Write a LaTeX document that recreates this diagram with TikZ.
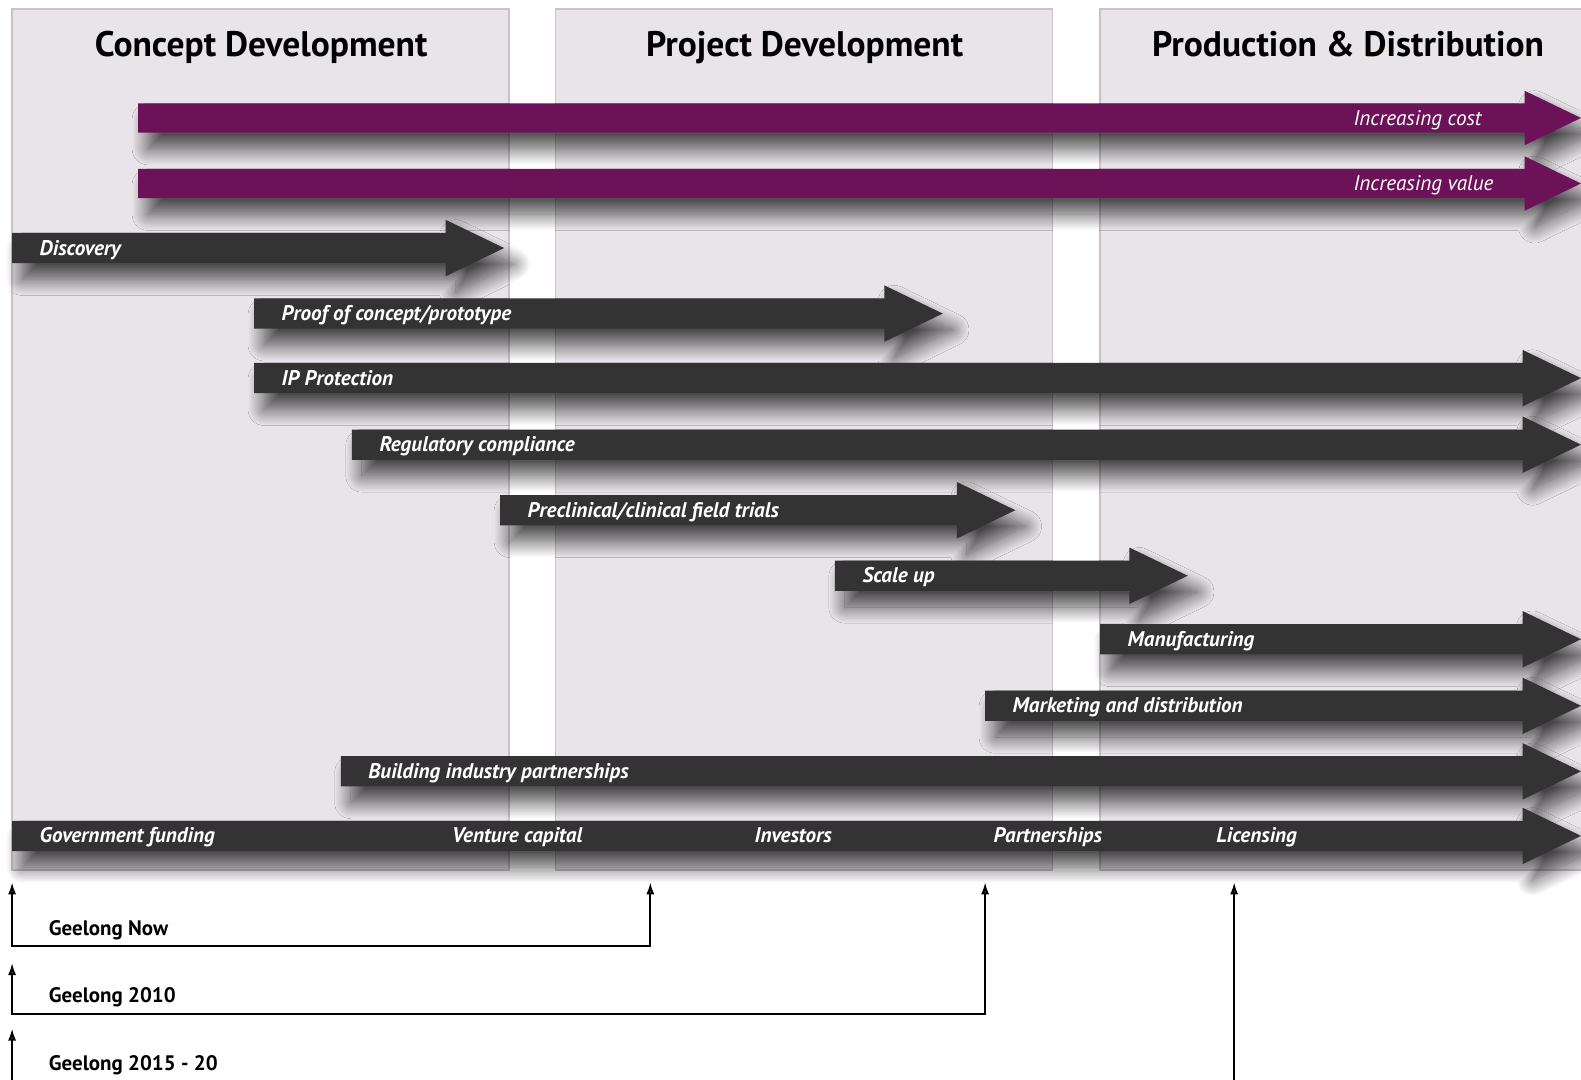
\documentclass[tikz,border=0pt]{standalone}
\usepackage{fontspec}
\setmainfont{PT Sans}
\usetikzlibrary{arrows.meta, shadows.blur}

\definecolor{panelfill}{HTML}{E9E4E9}
\definecolor{panelline}{HTML}{CDBFCD}
\definecolor{costpurple}{HTML}{6B1259}
\definecolor{stagegray}{HTML}{333333}

\begin{document}
\begin{tikzpicture}[
  x=0.5pt, y=-0.5pt,
  panel/.style={fill=panelfill, draw=panelline, line width=0.8pt},
  title/.style={anchor=base, font=\fontsize{17.6}{19}\selectfont\bfseries},
  bar/.style={blur shadow={shadow xshift=5pt, shadow yshift=-8pt,
      shadow blur radius=8pt, shadow blur steps=20, shadow opacity=70}},
  barlabel/.style={text=white, inner sep=0pt, anchor=base west,
      font=\fontsize{10.5}{12}\selectfont\bfseries\itshape},
  trendlabel/.style={text=white, inner sep=0pt, anchor=base west,
      font=\fontsize{10.5}{12}\selectfont\itshape},
  stage/.style={font=\fontsize{10.4}{12}\selectfont\bfseries, inner sep=0pt, anchor=base west},
  bracket/.style={line width=1pt, {Latex[length=6pt,width=4pt]}-{Latex[length=6pt,width=4pt]}},
  tick/.style={line width=1pt, -{Latex[length=6pt,width=4pt]}}
]
\useasboundingbox (0,0) rectangle (1568,1071);

% the three phases
\draw[panel] (12,9) rectangle (505,863);
\draw[panel] (551,9) rectangle (1044,863);
\draw[panel] (1091,9) rectangle (1600,863);
\node[title] (concept) at (259,56) {Concept Development};
\node[title] (project) at (798,56) {Project Development};
\node[title] (production) at (1337,56) {Production \& Distribution};

% cost and value
\foreach \y/\nm/\txt in {117/cost/{Increasing cost}, 182/value/{Increasing value}} {
  \path[bar, fill=costpurple] (137,\y-14.5) -- (1512,\y-14.5) -- (1512,\y-27)
    -- (1568,\y) -- (1512,\y+27) -- (1512,\y+14.5) -- (137,\y+14.5) -- cycle;
  \node[trendlabel] (\nm) at (1342,\y+7) {\txt};
}

% activities
\foreach \y/\xa/\xb/\nm/\txt in {
    246/12/500/disc/Discovery,
    311/252/935/proof/{Proof of concept/prototype},
    375/252/1568/ip/{IP Protection},
    441/349/1568/reg/{Regulatory compliance},
    506/496/1007/trials/{Preclinical/clinical field trials},
    571/828/1178/scale/{Scale up},
    634/1091/1568/manuf/Manufacturing,
    700/977/1568/market/{Marketing and distribution},
    765/338/1568/partner/{Building industry partnerships},
    829/12/1568/fund/{Government funding}} {
  \path[bar, fill=stagegray] (\xa,\y-15) -- (\xb-58,\y-15) -- (\xb-58,\y-28)
    -- (\xb,\y) -- (\xb-58,\y+28) -- (\xb-58,\y+15) -- (\xa,\y+15) -- cycle;
  \node[barlabel] (\nm) at (\xa+27,\y+7) {\txt};
}
\node[barlabel] (venture) at (448,836) {Venture capital};
\node[barlabel] (investors) at (748,836) {Investors};
\node[barlabel] (partnerships) at (985,836) {Partnerships};
\node[barlabel] (licensing) at (1206,836) {Licensing};

% timeline
\coordinate (nowA) at (12,875);
\coordinate (nowB) at (645,875);
\coordinate (nowBase) at (0,938);
\coordinate (tenA) at (12,955);
\coordinate (tenB) at (977,875);
\coordinate (tenBase) at (0,1006);
\coordinate (laterA) at (12,1020);
\coordinate (laterB) at (1224,875);
\coordinate (laterBase) at (0,1090);
\draw[bracket] (nowA) |- (nowBase -| nowB) -- (nowB);
\draw[bracket] (tenA) |- (tenBase -| tenB) -- (tenB);
\draw[tick] (laterBase -| laterA) -- (laterA);
\draw[tick] (laterBase -| laterB) -- (laterB);
\node[stage] (now) at (48,928) {Geelong Now};
\node[stage] (ten) at (48,994) {Geelong 2010};
\node[stage] (later) at (48,1062) {Geelong 2015 - 20};
\end{tikzpicture}
\end{document}
